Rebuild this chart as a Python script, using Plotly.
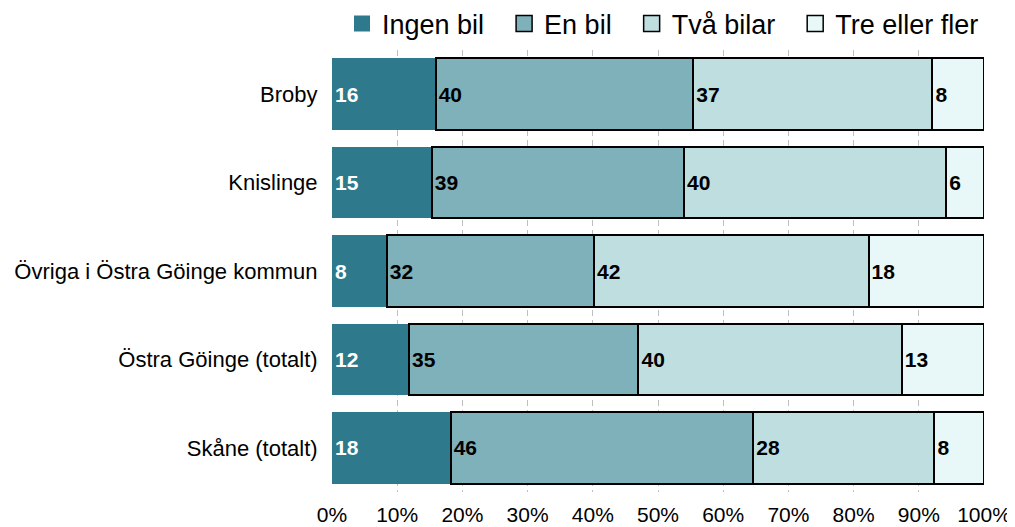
import plotly.graph_objects as go

categories = ["Broby", "Knislinge", "Övriga i Östra Göinge kommun", "Östra Göinge (totalt)", "Skåne (totalt)"]
series_names = ["Ingen bil", "En bil", "Två bilar", "Tre eller fler"]
ingen_bil = [15.9, 15.3, 8.4, 11.8, 18.2]
en_bil = [39.5, 38.7, 31.8, 35.2, 46.4]
tva_bilar = [36.7, 40.2, 42.1, 40.4, 27.8]
tre_eller_fler = [7.9, 5.8, 17.7, 12.6, 7.6]
x_ticks = [0, 10, 20, 30, 40, 50, 60, 70, 80, 90, 100]
x_tick_labels = [f"{t}%" for t in x_ticks]

colors = ["#2E7A8C", "#7FB1BB", "#BFDEE0", "#E8F8F8"]
line_colors = ["#2E7A8C", "#000000", "#000000", "#000000"]
line_widths = [0, 2, 2, 2]
text_colors = ["#FFFFFF", "#000000", "#000000", "#000000"]
legend_pad = ["\u00a0\u00a0", "\u00a0\u00a0", "\u00a0\u00a0", ""]

FONT = "Liberation Sans, Arial, sans-serif"

fig = go.Figure()
for name, vals, c, lc, lw, tc in zip(series_names, [ingen_bil, en_bil, tva_bilar, tre_eller_fler],
                                     colors, line_colors, line_widths, text_colors):
    fig.add_trace(go.Bar(
        y=categories, x=vals, name=name, orientation="h",
        marker=dict(color=c, line=dict(color=lc, width=lw)),
        text=[f"{round(v):d}" for v in vals],
        textposition="inside", insidetextanchor="start",
        textfont=dict(family=FONT, size=21, color=tc, weight="bold"),
        constraintext="none",
        hoverinfo="skip",
        showlegend=False,
    ))

# legend entries (larger square symbols)
for name, pad, c, lc, lw in zip(series_names, legend_pad, colors, line_colors, [0, 1.5, 1.5, 1.5]):
    fig.add_trace(go.Scatter(
        x=[None], y=[None], mode="markers", name=name + pad,
        marker=dict(symbol="square", size=21, color=c, line=dict(color=lc, width=lw)),
        showlegend=True, hoverinfo="skip",
    ))

fig.update_layout(
    barmode="stack",
    bargap=0.19,
    width=1015, height=527,
    margin=dict(l=324, r=39, t=42, b=43, autoexpand=False),
    paper_bgcolor="white", plot_bgcolor="white",
    font=dict(family=FONT, size=22, color="#000000"),
    legend=dict(orientation="h", x=1.0, xanchor="right", y=1.059, yanchor="middle",
                font=dict(family=FONT, size=27), traceorder="normal",
                itemsizing="trace", bgcolor="rgba(0,0,0,0)"),
    showlegend=True,
)
fig.update_xaxes(range=[0, 100], tickvals=x_ticks, ticktext=x_tick_labels,
                 showgrid=True, gridcolor="#BFBFBF", gridwidth=1, griddash="6px,4px",
                 zeroline=False, showline=False, ticks="outside", ticklen=4,
                 tickcolor="rgba(0,0,0,0)", tickfont=dict(size=21), automargin=False,
                 fixedrange=True)
fig.update_yaxes(autorange="reversed", showgrid=False, zeroline=False, showline=False,
                 ticks="outside", ticklen=9, tickcolor="rgba(0,0,0,0)",
                 tickfont=dict(size=22), automargin=False)

fig.write_html("out.html")
